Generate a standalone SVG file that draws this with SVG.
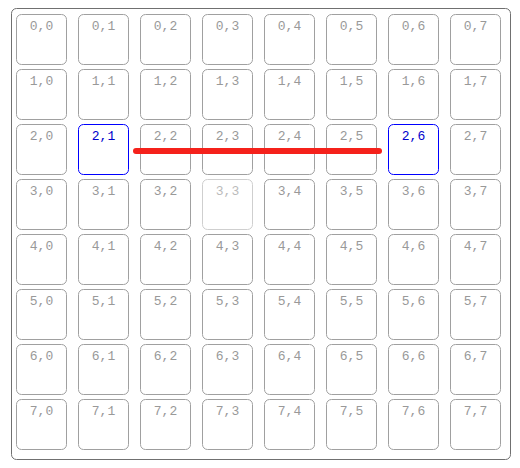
<svg xmlns="http://www.w3.org/2000/svg" width="520" height="468" viewBox="0 0 520 468">
<style>
.cell rect{fill:#fff;stroke:#a0a0a0;stroke-width:1}
.cell text{font-family:"Liberation Mono",monospace;font-size:13px;fill:#999;text-anchor:middle}
.sel rect{stroke:#0000ff}
.sel text{fill:#0000cc}
.hov rect{stroke:#cfcfcf}
.hov text{fill:#bbb}
</style>
<rect x="11.5" y="8.5" width="499" height="451" rx="5" fill="#fff" stroke="#707070" stroke-width="1"/>
<g id="cells">
<g id="c0_0" class="cell"><rect x="16.5" y="14.5" width="50" height="50" rx="5"/><text x="41.5" y="30">0,0</text></g>
<g id="c0_1" class="cell"><rect x="78.5" y="14.5" width="50" height="50" rx="5"/><text x="103.5" y="30">0,1</text></g>
<g id="c0_2" class="cell"><rect x="140.5" y="14.5" width="50" height="50" rx="5"/><text x="165.5" y="30">0,2</text></g>
<g id="c0_3" class="cell"><rect x="202.5" y="14.5" width="50" height="50" rx="5"/><text x="227.5" y="30">0,3</text></g>
<g id="c0_4" class="cell"><rect x="264.5" y="14.5" width="50" height="50" rx="5"/><text x="289.5" y="30">0,4</text></g>
<g id="c0_5" class="cell"><rect x="326.5" y="14.5" width="50" height="50" rx="5"/><text x="351.5" y="30">0,5</text></g>
<g id="c0_6" class="cell"><rect x="388.5" y="14.5" width="50" height="50" rx="5"/><text x="413.5" y="30">0,6</text></g>
<g id="c0_7" class="cell"><rect x="450.5" y="14.5" width="50" height="50" rx="5"/><text x="475.5" y="30">0,7</text></g>

<g id="c1_0" class="cell"><rect x="16.5" y="69.5" width="50" height="50" rx="5"/><text x="41.5" y="85">1,0</text></g>
<g id="c1_1" class="cell"><rect x="78.5" y="69.5" width="50" height="50" rx="5"/><text x="103.5" y="85">1,1</text></g>
<g id="c1_2" class="cell"><rect x="140.5" y="69.5" width="50" height="50" rx="5"/><text x="165.5" y="85">1,2</text></g>
<g id="c1_3" class="cell"><rect x="202.5" y="69.5" width="50" height="50" rx="5"/><text x="227.5" y="85">1,3</text></g>
<g id="c1_4" class="cell"><rect x="264.5" y="69.5" width="50" height="50" rx="5"/><text x="289.5" y="85">1,4</text></g>
<g id="c1_5" class="cell"><rect x="326.5" y="69.5" width="50" height="50" rx="5"/><text x="351.5" y="85">1,5</text></g>
<g id="c1_6" class="cell"><rect x="388.5" y="69.5" width="50" height="50" rx="5"/><text x="413.5" y="85">1,6</text></g>
<g id="c1_7" class="cell"><rect x="450.5" y="69.5" width="50" height="50" rx="5"/><text x="475.5" y="85">1,7</text></g>

<g id="c2_0" class="cell"><rect x="16.5" y="124.5" width="50" height="50" rx="5"/><text x="41.5" y="140">2,0</text></g>
<g id="c2_1" class="cell sel"><rect x="78.5" y="124.5" width="50" height="50" rx="5"/><text x="103.5" y="140">2,1</text></g>
<g id="c2_2" class="cell"><rect x="140.5" y="124.5" width="50" height="50" rx="5"/><text x="165.5" y="140">2,2</text></g>
<g id="c2_3" class="cell"><rect x="202.5" y="124.5" width="50" height="50" rx="5"/><text x="227.5" y="140">2,3</text></g>
<g id="c2_4" class="cell"><rect x="264.5" y="124.5" width="50" height="50" rx="5"/><text x="289.5" y="140">2,4</text></g>
<g id="c2_5" class="cell"><rect x="326.5" y="124.5" width="50" height="50" rx="5"/><text x="351.5" y="140">2,5</text></g>
<g id="c2_6" class="cell sel"><rect x="388.5" y="124.5" width="50" height="50" rx="5"/><text x="413.5" y="140">2,6</text></g>
<g id="c2_7" class="cell"><rect x="450.5" y="124.5" width="50" height="50" rx="5"/><text x="475.5" y="140">2,7</text></g>

<g id="c3_0" class="cell"><rect x="16.5" y="179.5" width="50" height="50" rx="5"/><text x="41.5" y="195">3,0</text></g>
<g id="c3_1" class="cell"><rect x="78.5" y="179.5" width="50" height="50" rx="5"/><text x="103.5" y="195">3,1</text></g>
<g id="c3_2" class="cell"><rect x="140.5" y="179.5" width="50" height="50" rx="5"/><text x="165.5" y="195">3,2</text></g>
<g id="c3_3" class="cell hov"><rect x="202.5" y="179.5" width="50" height="50" rx="5"/><text x="227.5" y="195">3,3</text></g>
<g id="c3_4" class="cell"><rect x="264.5" y="179.5" width="50" height="50" rx="5"/><text x="289.5" y="195">3,4</text></g>
<g id="c3_5" class="cell"><rect x="326.5" y="179.5" width="50" height="50" rx="5"/><text x="351.5" y="195">3,5</text></g>
<g id="c3_6" class="cell"><rect x="388.5" y="179.5" width="50" height="50" rx="5"/><text x="413.5" y="195">3,6</text></g>
<g id="c3_7" class="cell"><rect x="450.5" y="179.5" width="50" height="50" rx="5"/><text x="475.5" y="195">3,7</text></g>

<g id="c4_0" class="cell"><rect x="16.5" y="234.5" width="50" height="50" rx="5"/><text x="41.5" y="250">4,0</text></g>
<g id="c4_1" class="cell"><rect x="78.5" y="234.5" width="50" height="50" rx="5"/><text x="103.5" y="250">4,1</text></g>
<g id="c4_2" class="cell"><rect x="140.5" y="234.5" width="50" height="50" rx="5"/><text x="165.5" y="250">4,2</text></g>
<g id="c4_3" class="cell"><rect x="202.5" y="234.5" width="50" height="50" rx="5"/><text x="227.5" y="250">4,3</text></g>
<g id="c4_4" class="cell"><rect x="264.5" y="234.5" width="50" height="50" rx="5"/><text x="289.5" y="250">4,4</text></g>
<g id="c4_5" class="cell"><rect x="326.5" y="234.5" width="50" height="50" rx="5"/><text x="351.5" y="250">4,5</text></g>
<g id="c4_6" class="cell"><rect x="388.5" y="234.5" width="50" height="50" rx="5"/><text x="413.5" y="250">4,6</text></g>
<g id="c4_7" class="cell"><rect x="450.5" y="234.5" width="50" height="50" rx="5"/><text x="475.5" y="250">4,7</text></g>

<g id="c5_0" class="cell"><rect x="16.5" y="289.5" width="50" height="50" rx="5"/><text x="41.5" y="305">5,0</text></g>
<g id="c5_1" class="cell"><rect x="78.5" y="289.5" width="50" height="50" rx="5"/><text x="103.5" y="305">5,1</text></g>
<g id="c5_2" class="cell"><rect x="140.5" y="289.5" width="50" height="50" rx="5"/><text x="165.5" y="305">5,2</text></g>
<g id="c5_3" class="cell"><rect x="202.5" y="289.5" width="50" height="50" rx="5"/><text x="227.5" y="305">5,3</text></g>
<g id="c5_4" class="cell"><rect x="264.5" y="289.5" width="50" height="50" rx="5"/><text x="289.5" y="305">5,4</text></g>
<g id="c5_5" class="cell"><rect x="326.5" y="289.5" width="50" height="50" rx="5"/><text x="351.5" y="305">5,5</text></g>
<g id="c5_6" class="cell"><rect x="388.5" y="289.5" width="50" height="50" rx="5"/><text x="413.5" y="305">5,6</text></g>
<g id="c5_7" class="cell"><rect x="450.5" y="289.5" width="50" height="50" rx="5"/><text x="475.5" y="305">5,7</text></g>

<g id="c6_0" class="cell"><rect x="16.5" y="344.5" width="50" height="50" rx="5"/><text x="41.5" y="360">6,0</text></g>
<g id="c6_1" class="cell"><rect x="78.5" y="344.5" width="50" height="50" rx="5"/><text x="103.5" y="360">6,1</text></g>
<g id="c6_2" class="cell"><rect x="140.5" y="344.5" width="50" height="50" rx="5"/><text x="165.5" y="360">6,2</text></g>
<g id="c6_3" class="cell"><rect x="202.5" y="344.5" width="50" height="50" rx="5"/><text x="227.5" y="360">6,3</text></g>
<g id="c6_4" class="cell"><rect x="264.5" y="344.5" width="50" height="50" rx="5"/><text x="289.5" y="360">6,4</text></g>
<g id="c6_5" class="cell"><rect x="326.5" y="344.5" width="50" height="50" rx="5"/><text x="351.5" y="360">6,5</text></g>
<g id="c6_6" class="cell"><rect x="388.5" y="344.5" width="50" height="50" rx="5"/><text x="413.5" y="360">6,6</text></g>
<g id="c6_7" class="cell"><rect x="450.5" y="344.5" width="50" height="50" rx="5"/><text x="475.5" y="360">6,7</text></g>

<g id="c7_0" class="cell"><rect x="16.5" y="399.5" width="50" height="50" rx="5"/><text x="41.5" y="415">7,0</text></g>
<g id="c7_1" class="cell"><rect x="78.5" y="399.5" width="50" height="50" rx="5"/><text x="103.5" y="415">7,1</text></g>
<g id="c7_2" class="cell"><rect x="140.5" y="399.5" width="50" height="50" rx="5"/><text x="165.5" y="415">7,2</text></g>
<g id="c7_3" class="cell"><rect x="202.5" y="399.5" width="50" height="50" rx="5"/><text x="227.5" y="415">7,3</text></g>
<g id="c7_4" class="cell"><rect x="264.5" y="399.5" width="50" height="50" rx="5"/><text x="289.5" y="415">7,4</text></g>
<g id="c7_5" class="cell"><rect x="326.5" y="399.5" width="50" height="50" rx="5"/><text x="351.5" y="415">7,5</text></g>
<g id="c7_6" class="cell"><rect x="388.5" y="399.5" width="50" height="50" rx="5"/><text x="413.5" y="415">7,6</text></g>
<g id="c7_7" class="cell"><rect x="450.5" y="399.5" width="50" height="50" rx="5"/><text x="475.5" y="415">7,7</text></g>
</g>
<g id="connectors">
<line x1="136" y1="151" x2="379" y2="151" stroke="#f5211b" stroke-width="6" stroke-linecap="round"/>
</g>
</svg>
